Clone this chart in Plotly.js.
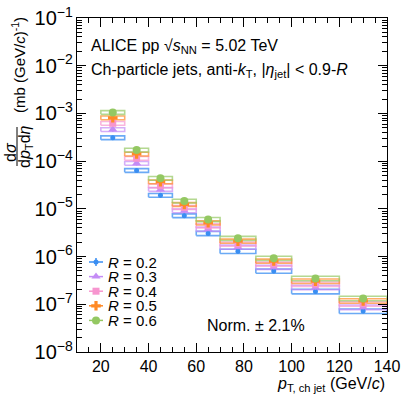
<!DOCTYPE html>
<html>
<head>
<meta charset="utf-8">
<script src="https://cdn.plot.ly/plotly-3.0.1.min.js"></script>
<style>
  body { margin: 0; background: #fff; }
  #myDiv { width: 407px; height: 397px; }
</style>
</head>
<body>
<div id="myDiv"></div>
<script>
// pT bins (GeV/c)
var binLow    = [20, 30, 40, 50, 60, 70, 85, 100, 120];
var binHigh   = [30, 40, 50, 60, 70, 85, 100, 120, 140];
var binCenter = [25, 35, 45, 55, 65, 77.5, 92.5, 110, 130];

// cross sections, mb (GeV/c)^-1
var r02 = [3.1e-4, 6.4e-5, 1.92e-5, 7.2e-6, 3.06e-6, 1.29e-6, 4.97e-7, 1.86e-7, 7.2e-8];
var r03 = [4.6e-4, 9.0e-5, 2.56e-5, 9.1e-6, 3.77e-6, 1.58e-6, 6.0e-7, 2.26e-7, 8.7e-8];
var r04 = [6.2e-4, 1.15e-4, 3.05e-5, 1.07e-5, 4.4e-6, 1.83e-6, 6.97e-7, 2.65e-7, 1.02e-7];
var r05 = [8.1e-4, 1.41e-4, 3.7e-5, 1.24e-5, 5.1e-6, 2.11e-6, 8.05e-7, 3.06e-7, 1.18e-7];
var r06 = [1.05e-3, 1.71e-4, 4.36e-5, 1.46e-5, 6.0e-6, 2.41e-6, 9.2e-7, 3.49e-7, 1.33e-7];

// relative systematic uncertainty per bin (box half height)
var sysRel = [0.09, 0.09, 0.09, 0.09, 0.1, 0.1, 0.1, 0.11, 0.11];

var names   = ['<i>R</i> = 0.2', '<i>R</i> = 0.3', '<i>R</i> = 0.4', '<i>R</i> = 0.5', '<i>R</i> = 0.6'];
var values  = [r02, r03, r04, r05, r06];
var colors  = ['#3a8ef2', '#c48cf5', '#f795cf', '#ff8a26', '#94c862'];
var boxCols = ['rgba(58,142,242,0.75)', 'rgba(196,140,245,0.7)', 'rgba(247,149,207,0.7)',
               'rgba(255,138,38,0.7)', 'rgba(148,200,98,0.7)'];
var symbols = ['circle', 'triangle-up', 'square', 'cross', 'circle'];
var sizes   = [5, 8, 7, 8, 8];

var data = [];

// systematic boxes
values.forEach(function (v, k) {
  var bx = [], by = [];
  for (var i = 0; i < v.length; i++) {
    var lo = v[i] * (1 - sysRel[i]), hi = v[i] * (1 + sysRel[i]);
    bx.push(binLow[i], binHigh[i], binHigh[i], binLow[i], binLow[i], null);
    by.push(lo, lo, hi, hi, lo, null);
  }
  data.push({
    x: bx, y: by, type: 'scatter', mode: 'lines',
    line: { color: boxCols[k], width: 1.6 },
    showlegend: false, hoverinfo: 'skip'
  });
});

// points
values.forEach(function (v, k) {
  data.push({
    x: binCenter, y: v, type: 'scatter', mode: 'markers',
    name: names[k], showlegend: false,
    marker: { symbol: symbols[k], size: sizes[k], color: colors[k] },
    error_y: { type: 'percent', value: 10, color: colors[k], thickness: 1.5, width: 0 }
  });
});

// hand made legend on a pixel overlay axis (x2/y2 in page pixels)
var legX = 96, legTop = 262, legStep = 14.6;
names.forEach(function (n, k) {
  data.push({
    x: [legX], y: [legTop + k * legStep], xaxis: 'x2', yaxis: 'y2',
    type: 'scatter', mode: 'markers', showlegend: false, hoverinfo: 'skip',
    marker: { symbol: symbols[k], size: sizes[k], color: colors[k] },
    error_x: { type: 'constant', value: 7, color: colors[k], thickness: 1.5, width: 0 },
    error_y: { type: 'constant', value: k === 0 ? 4 : 0, color: colors[k], thickness: 1.5, width: 0 }
  });
});

// pixel -> paper helpers (plot area 77..387 x 18..352)
function pxX(p) { return (p - 77) / 310; }
function pxY(p) { return (352 - p) / 334; }

var font = 'Liberation Sans, Arial, sans-serif';

var annotations = [
  { xref: 'paper', yref: 'paper', x: pxX(89), y: pxY(46), xanchor: 'left', yanchor: 'middle',
    showarrow: false, font: { size: 16 },
    text: 'ALICE pp √<i>s</i><sub>NN</sub> = 5.02 TeV' },
  { xref: 'paper', yref: 'paper', x: pxX(89), y: pxY(70), xanchor: 'left', yanchor: 'middle',
    showarrow: false, font: { size: 16 },
    text: 'Ch-particle jets, anti-<i>k</i><sub>T</sub>, |<i>η</i><sub>jet</sub>| < 0.9-<i>R</i>' },
  { xref: 'paper', yref: 'paper', x: pxX(256), y: pxY(325), xanchor: 'center', yanchor: 'middle',
    showarrow: false, font: { size: 16 }, text: 'Norm. ± 2.1%' },
  { xref: 'paper', yref: 'paper', x: 1, y: pxY(384), xanchor: 'right', yanchor: 'middle',
    showarrow: false, font: { size: 16 },
    text: '<i>p</i><sub>T, ch jet</sub> (GeV/<i>c</i>)' },
  // y title: fraction dσ / dpT dη then units
  { xref: 'paper', yref: 'paper', x: pxX(10), y: pxY(152), xanchor: 'center', yanchor: 'middle',
    textangle: -90, showarrow: false, font: { size: 16 }, text: 'd<i>σ</i>' },
  { xref: 'paper', yref: 'paper', x: pxX(25), y: pxY(146), xanchor: 'center', yanchor: 'middle',
    textangle: -90, showarrow: false, font: { size: 16 }, text: 'd<i>p</i><sub>T</sub>d<i>η</i>' },
  { xref: 'paper', yref: 'paper', x: pxX(18), y: pxY(65), xanchor: 'center', yanchor: 'middle',
    textangle: -90, showarrow: false, font: { size: 15 },
    text: '(mb (GeV/<i>c</i>)<sup>-1</sup>)' }
];
names.forEach(function (n, k) {
  annotations.push({
    xref: 'x2', yref: 'y2', x: legX + 10, y: legTop + k * legStep,
    xanchor: 'left', yanchor: 'middle', showarrow: false, font: { size: 15 }, text: n
  });
});

var layout = {
  width: 407, height: 397,
  margin: { l: 77, r: 20, t: 18, b: 45 },
  paper_bgcolor: '#fff', plot_bgcolor: '#fff',
  font: { family: font, color: '#000', size: 16 },
  showlegend: false,
  xaxis: {
    range: [10, 140], tick0: 0, dtick: 20,
    ticks: 'inside', ticklen: 9, tickcolor: '#000',
    minor: { dtick: 5, ticks: 'inside', ticklen: 5, tickcolor: '#000' },
    showline: true, linecolor: '#000', linewidth: 1, mirror: 'ticks',
    showgrid: false, zeroline: false,
    tickfont: { size: 16 }
  },
  yaxis: {
    type: 'log', range: [-8, -1], dtick: 1,
    exponentformat: 'power',
    ticks: 'inside', ticklen: 9, tickcolor: '#000',
    minor: { ticks: 'inside', ticklen: 5, tickcolor: '#000' },
    showline: true, linecolor: '#000', linewidth: 1, mirror: 'ticks',
    showgrid: false, zeroline: false,
    tickfont: { size: 16 }
  },
  xaxis2: { overlaying: 'x', anchor: 'y2', range: [77, 387], visible: false, fixedrange: true },
  yaxis2: { overlaying: 'y', anchor: 'x2', range: [352, 18], visible: false, fixedrange: true },
  annotations: annotations,
  shapes: [
    { type: 'line', xref: 'paper', yref: 'paper',
      x0: pxX(17), x1: pxX(17), y0: pxY(127), y1: pxY(166),
      line: { color: '#000', width: 1 } }
  ]
};

Plotly.newPlot('myDiv', data, layout, { displayModeBar: false, staticPlot: true });
</script>
</body>
</html>
